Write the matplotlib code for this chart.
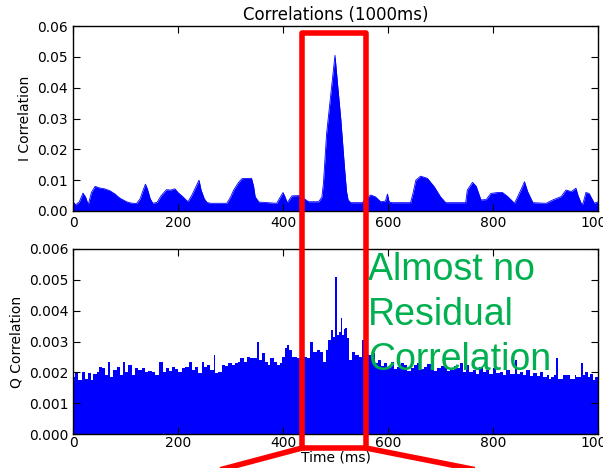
import numpy as np
import matplotlib
matplotlib.use("Agg")
import matplotlib.pyplot as plt
from matplotlib.patches import Rectangle
from matplotlib.lines import Line2D
from matplotlib.ticker import FormatStrFormatter

# ----- I correlation (ms, value) -----
i_ms = [0, 5, 12, 19, 24, 29, 35, 42, 50, 60, 70, 80, 89, 102, 110, 121, 128,
        133, 138, 142, 147, 152, 160, 168, 178, 186, 194, 200, 210, 219, 226,
        233, 240, 244, 250, 255, 262, 293, 300, 306, 315, 322, 340, 344, 347,
        354, 388, 393, 400, 404, 408, 417, 430, 440, 449, 468, 474, 477, 483,
        493, 499, 504, 510, 517, 521, 524, 529, 551, 558, 567, 576, 586, 595,
        599, 602, 607, 643, 648, 653, 662, 675, 688, 700, 710, 748, 751, 761,
        768, 777, 787, 796, 809, 818, 828, 841, 853, 860, 866, 876, 901, 914,
        930, 939, 949, 958, 962, 968, 971, 977, 983, 993, 1000]
i_val = [0.0030, 0.0020, 0.0030, 0.0058, 0.0045, 0.0020, 0.0060, 0.0080,
         0.0075, 0.0072, 0.0066, 0.0055, 0.0042, 0.0030, 0.0026, 0.0024,
         0.0040, 0.0065, 0.0087, 0.0070, 0.0040, 0.0025, 0.0028, 0.0050,
         0.0069, 0.0068, 0.0072, 0.0060, 0.0045, 0.0030, 0.0050, 0.0075,
         0.0100, 0.0068, 0.0040, 0.0028, 0.0025, 0.0025, 0.0045, 0.0068,
         0.0092, 0.0105, 0.0106, 0.0080, 0.0046, 0.0029, 0.0025, 0.0040,
         0.0060, 0.0045, 0.0027, 0.0049, 0.0050, 0.0040, 0.0030, 0.0030,
         0.0045, 0.0090, 0.0250, 0.0410, 0.0505, 0.0410, 0.0300, 0.0144,
         0.0063, 0.0036, 0.0027, 0.0027, 0.0040, 0.0052, 0.0046, 0.0030,
         0.0032, 0.0055, 0.0030, 0.0027, 0.0027, 0.0060, 0.0100, 0.0113,
         0.0106, 0.0079, 0.0046, 0.0027, 0.0027, 0.0068, 0.0093, 0.0080,
         0.0036, 0.0037, 0.0057, 0.0060, 0.0060, 0.0047, 0.0025, 0.0068,
         0.0095, 0.0063, 0.0027, 0.0025, 0.0036, 0.0047, 0.0068, 0.0063,
         0.0074, 0.0050, 0.0025, 0.0022, 0.0060, 0.0057, 0.0025, 0.0030]

# ----- Q correlation (ms, value) -----
q_ms = [0, 4, 10, 17, 23, 29, 34, 39, 45, 50, 55, 61, 66, 70, 77, 83, 90, 95,
        99, 105, 112, 118, 124, 131, 137, 143, 150, 156, 164, 171, 177, 183,
        188, 194, 200, 207, 213, 221, 226, 232, 238, 245, 249, 255, 261, 268,
        271, 277, 284, 290, 296, 303, 309, 314, 319, 325, 331, 338, 344, 350,
        355, 360, 366, 372, 376, 382, 388, 395, 398, 403, 408, 412, 417, 423,
        427, 434, 440, 446, 452, 458, 465, 471, 476, 481, 486, 491, 495, 499,
        502, 506, 510, 513, 516, 519, 522, 526, 532, 538, 545, 551, 556, 562,
        570, 575, 580, 586, 592, 598, 605, 611, 618, 624, 630, 637, 643, 650,
        656, 662, 668, 675, 681, 688, 694, 700, 707, 713, 719, 726, 732, 738,
        743, 749, 755, 761, 768, 774, 780, 787, 793, 800, 806, 813, 819, 825,
        833, 841, 846, 851, 857, 863, 870, 876, 883, 889, 896, 902, 907, 911,
        916, 920, 924, 927, 934, 940, 946, 952, 956, 959, 967, 971, 975, 981,
        985, 990, 995, 1000]
q_val = [0.00186, 0.00202, 0.00175, 0.00202, 0.00177, 0.00197, 0.00175,
         0.00195, 0.00202, 0.00218, 0.00213, 0.00191, 0.00234, 0.00186,
         0.00208, 0.00218, 0.00191, 0.00234, 0.00202, 0.00224, 0.00191,
         0.00213, 0.00208, 0.00213, 0.00202, 0.00205, 0.00202, 0.00191,
         0.00234, 0.00202, 0.00213, 0.00205, 0.00218, 0.00210, 0.00202,
         0.00213, 0.00218, 0.00234, 0.00208, 0.00218, 0.00197, 0.00234,
         0.00218, 0.00224, 0.00208, 0.00256, 0.00197, 0.00202, 0.00224,
         0.00220, 0.00229, 0.00224, 0.00229, 0.00234, 0.00245, 0.00234,
         0.00249, 0.00245, 0.00245, 0.00300, 0.00240, 0.00262, 0.00234,
         0.00224, 0.00245, 0.00234, 0.00224, 0.00229, 0.00251, 0.00278,
         0.00289, 0.00272, 0.00251, 0.00251, 0.00245, 0.00240, 0.00250,
         0.00245, 0.00300, 0.00267, 0.00272, 0.00267, 0.00234, 0.00272,
         0.00305, 0.00337, 0.00315, 0.00510, 0.00321, 0.00330, 0.00376,
         0.00320, 0.00340, 0.00345, 0.00310, 0.00240, 0.00267, 0.00256,
         0.00250, 0.00305, 0.00250, 0.00255, 0.00262, 0.00230, 0.00240,
         0.00220, 0.00229, 0.00215, 0.00234, 0.00210, 0.00218, 0.00230,
         0.00223, 0.00205, 0.00213, 0.00225, 0.00229, 0.00210, 0.00218,
         0.00228, 0.00223, 0.00205, 0.00213, 0.00220, 0.00218, 0.00205,
         0.00208, 0.00222, 0.00213, 0.00229, 0.00200, 0.00224, 0.00200,
         0.00208, 0.00196, 0.00218, 0.00200, 0.00208, 0.00195, 0.00213,
         0.00198, 0.00202, 0.00190, 0.00208, 0.00195, 0.00240, 0.00195,
         0.00202, 0.00190, 0.00208, 0.00188, 0.00197, 0.00188, 0.00202,
         0.00185, 0.00191, 0.00180, 0.00186, 0.00190, 0.00245, 0.00180,
         0.00180, 0.00192, 0.00191, 0.00178, 0.00180, 0.00192, 0.00186,
         0.00231, 0.00190, 0.00202, 0.00186, 0.00195, 0.00175, 0.00185,
         0.00175]

x_ticks = [0, 200, 400, 600, 800, 1000]
i_ticks = [0.00, 0.01, 0.02, 0.03, 0.04, 0.05, 0.06]
q_ticks = [0.000, 0.001, 0.002, 0.003, 0.004, 0.005, 0.006]

# ----- Figure (pixel layout of a 603x468 image) -----
W, H = 603, 468
fig = plt.figure(figsize=(W / 100, H / 100), dpi=100)
plt.rcParams['font.family'] = 'DejaVu Sans'


def px_axes(left, top, right, bottom):
    return fig.add_axes([left / W, 1 - bottom / H, (right - left) / W, (bottom - top) / H])


def style(ax, yticks, fmt, xpad):
    ax.set_xlim(0, 1000)
    ax.set_ylim(yticks[0], yticks[-1])
    ax.set_xticks(x_ticks)
    ax.set_yticks(yticks)
    ax.yaxis.set_major_formatter(FormatStrFormatter(fmt))
    ax.tick_params(direction='in', length=5, width=0.8, top=True, right=True,
                   labelsize=10, pad=3.5)
    ax.tick_params(axis='x', pad=xpad)
    for s in ax.spines.values():
        s.set_linewidth(1.0)


# Top: I correlation
ax1 = px_axes(73, 26, 598, 211)
ax1.fill_between(i_ms, i_val, color='blue', lw=0)
ax1.plot(i_ms, i_val, color='blue', lw=0.6)
style(ax1, i_ticks, '%.2f', 3.5)
ax1.set_ylabel("I Correlation", fontsize=10)
ax1.set_title("Correlations (1000ms)", fontsize=12, pad=4)

# Bottom: Q correlation
ax2 = px_axes(73, 249, 598, 434)
ax2.fill_between(q_ms, q_val, step='post', color='blue', lw=0)
style(ax2, q_ticks, '%.3f', 1.5)
ax2.set_ylabel("Q Correlation", fontsize=10)
ax2.set_xlabel("Time (ms)", fontsize=10, labelpad=0)

# Red highlight box and zoom lines
red = '#ff0000'
fig.add_artist(Rectangle((302 / W, 1 - 448 / H), 64 / W, 415.5 / H,
                         transform=fig.transFigure, fill=False,
                         edgecolor=red, lw=4, joinstyle='round', zorder=10))
fig.add_artist(Line2D([302 / W, 208 / W], [1 - 448 / H, -5 / H],
                      transform=fig.transFigure, color=red, lw=4, zorder=10))
fig.add_artist(Line2D([366 / W, 492 / W], [1 - 448 / H, -5 / H],
                      transform=fig.transFigure, color=red, lw=4, zorder=10))

# Green note
green = '#00b050'
for line, base in zip(["Almost no", "Residual", "Correlation"], [280, 325, 370]):
    fig.text(368 / W, 1 - base / H, line, color=green, fontsize=27,
             family='Liberation Sans', va='baseline', ha='left', zorder=11)

fig.savefig("out.png", dpi=100)
